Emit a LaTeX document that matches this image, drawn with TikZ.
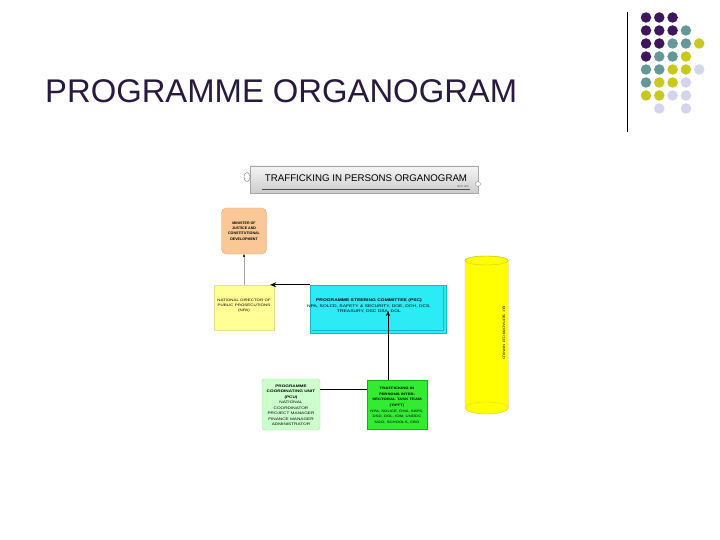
\documentclass[tikz,border=0pt]{standalone}
\usepackage{fontspec}
\setmainfont{Liberation Sans}
\newfontfamily\widefont[FakeStretch=1.3]{Liberation Sans}
\usetikzlibrary{arrows.meta,shapes.geometric}
\definecolor{titlecol}{RGB}{40,25,62}
\definecolor{dotP}{RGB}{62,22,92}
\definecolor{dotT}{RGB}{102,152,152}
\definecolor{dotY}{RGB}{200,200,30}
\definecolor{dotL}{RGB}{212,212,236}
\definecolor{peach}{RGB}{250,200,150}
\definecolor{peachline}{RGB}{225,165,115}
\definecolor{paleyellow}{RGB}{255,255,150}
\definecolor{paleyline}{RGB}{225,225,140}
\definecolor{pscfill}{RGB}{45,235,245}
\definecolor{pscline}{RGB}{20,185,200}
\definecolor{pcufill}{RGB}{205,255,205}
\definecolor{pculine}{RGB}{160,225,160}
\definecolor{tipfill}{RGB}{50,235,50}
\definecolor{tipline}{RGB}{30,170,30}
\definecolor{cylfill}{RGB}{255,255,0}
\definecolor{cylline}{RGB}{205,205,40}
\tikzset{
  dot/.style={circle,inner sep=0pt,minimum size=10.5pt},
  boxtext/.style={align=center,inner sep=0pt,text=black},
  blkarrow/.style={draw=black,line width=1.3pt,-{Stealth[length=6pt,width=5pt]}},
  thinarrow/.style={draw=black,line width=0.8pt,-{Stealth[length=5pt,width=4pt]}},
  greyarrow/.style={draw=gray!70,line width=0.4pt,-{Stealth[length=3pt,width=2.5pt,color=black]}},
  plainline/.style={draw=black,line width=0.9pt}
}
\begin{document}
\begin{tikzpicture}[x=1pt,y=-1pt]
\useasboundingbox (0,0) rectangle (720,540);
\fill[white] (0,0) rectangle (720,540);

% title
\node[anchor=base west,inner sep=0pt,text=titlecol,font=\fontsize{32.8}{36}\selectfont] (title) at (45,103) {PROGRAMME ORGANOGRAM};

% decorative rule and dots
\draw[black,line width=0.8pt] (627,12) -- (627,132);
\foreach \r/\row in {0/{P,P,P},1/{P,P,P,T},2/{P,P,T,T,Y},3/{P,T,T,Y},4/{T,T,Y,Y,L},5/{T,Y,Y,L},6/{Y,Y,L,L}}{
  \foreach \c [count=\i from 0] in \row {
    \node[dot,fill=dot\c] (d\r\i) at ({646+13.3*\i},{17.5+13*\r}) {};
  }
}
\node[dot,fill=dotL] (d71) at (659.3,108.5) {};
\node[dot,fill=dotL] (d73) at (686,108.5) {};

% header banner
\node[draw=gray!70,line width=0.4pt,top color=gray!8,bottom color=gray!40,minimum width=228pt,minimum height=27pt,inner sep=0pt] (hdr) at (364,179.5) {};
\node[inner sep=0pt,font=\fontsize{9.7}{11}\selectfont] (hdrt) at (366,178.5) {TRAFFICKING IN PERSONS ORGANOGRAM};
\draw[gray!60!black,line width=0.5pt] (262,189.5) -- (470,189.5);
\node[inner sep=0pt,font=\fontsize{2.6}{3}\selectfont,text=gray!60!black] (hdrs) at (463,186.3) {NPP 1/03};
\node[draw=gray,fill=white,ellipse,minimum width=6pt,minimum height=9pt,inner sep=0pt] (hc1) at (247,177) {};
\node[draw=gray,fill=white,circle,minimum size=5pt,inner sep=0pt] (hc2) at (478,184) {};

% minister
\node[draw=peachline,fill=peach,rounded corners=5pt,minimum width=45pt,minimum height=46pt,inner sep=0pt] (min) at (244,231) {};
\node[boxtext,font=\bfseries\fontsize{3.6}{5.3}\selectfont] (mint) at (244,231) {MINISTER OF\\JUSTICE AND\\CONSTITUTIONAL\\DEVELOPMENT};

% NDPP
\node[draw=paleyline,fill=paleyellow,minimum width=60pt,minimum height=45pt,inner sep=0pt] (ndpp) at (244,307.5) {};
\node[boxtext,font=\widefont\fontsize{3.4}{5.3}\selectfont] (ndppt) at (244,305.5) {NATIONAL DIRECTOR OF\\PUBLIC PROSECUTIONS\\(NPA)};

% PSC
\node[draw=pscline,fill=pscfill,line width=0.4pt,minimum width=136pt,minimum height=48pt,inner sep=0pt] (psc) at (378,309) {};
\draw[pscline,line width=0.5pt] ([xshift=-2.5pt,yshift=-2pt]psc.north east) -- ([xshift=-2.5pt,yshift=2.5pt]psc.south east) -- ([xshift=2pt,yshift=2.5pt]psc.south west);
\node[boxtext,font=\widefont\fontsize{3.8}{5.4}\selectfont] (psct) at (369,306) {\textbf{PROGRAMME STEERING COMMITTEE (PSC)}\\NPA, SOLCD, SAFETY \& SECURITY, DOE, DOH, DCS,\\TREASURY, DSC DSA, DOL};

% PCU
\node[draw=pculine,fill=pcufill,rounded corners=3pt,minimum width=58pt,minimum height=51pt,inner sep=0pt] (pcu) at (291,404.5) {};
\node[boxtext,font=\widefont\fontsize{3.6}{5.5}\selectfont] (pcut) at (291,405.5) {\textbf{PROGRAMME}\\\textbf{COORDINATING UNIT}\\\textbf{(PCU)}\\NATIONAL\\COORDINATOR\\PROJECT MANAGER\\FINANCE MANAGER\\ADMINISTRATOR};

% TIPIST
\node[draw=tipline,fill=tipfill,line width=0.4pt,minimum width=60pt,minimum height=49pt,inner sep=0pt] (tip) at (397,404.5) {};
\node[boxtext,font=\widefont\fontsize{3.3}{5.6}\selectfont] (tipt) at (397,405.5) {\textbf{TRAFFICKING IN}\\\textbf{PERSONS INTER-}\\\textbf{SECTORAL TASK TEAM}\\\textbf{(TIPTT)}\\NPA, SOLICE, DHA, SAPS,\\DSD, DOL, IOM, UNODC\\NGO, SCHOOLS, CBO};

% cylinder
\path[fill=cylfill,draw=cylline,line width=0.4pt] (465,260.5) -- (465,408) arc[start angle=180,end angle=0,x radius=21.6,y radius=6] -- (508.2,260.5) arc[start angle=0,end angle=-180,x radius=21.6,y radius=4.5] -- cycle;
\draw[cylline,line width=0.4pt] (486.6,260.5) ellipse[x radius=21.6,y radius=4.5];
\draw[cylline!80!yellow,line width=0.3pt] (465,408) arc[start angle=180,end angle=360,x radius=21.6,y radius=6];
\node[inner sep=0pt,rotate=-90,font=\widefont\fontsize{3.2}{4}\selectfont] (cylt) at (504,333) {EU: SEP/AD/99/113 NPA/ILD};

% connectors
\draw[greyarrow] (ndpp.north) -- (min.south);
\draw[blkarrow] (psc.north west) -- ([xshift=-4pt]ndpp.north east);
\coordinate (pscin) at (388,311);
\draw[thinarrow] (tip.north -| pscin) -- (pscin);
\draw[plainline] ([yshift=15.5pt]pcu.east) -- ([yshift=15.5pt]tip.west);
\end{tikzpicture}
\end{document}
